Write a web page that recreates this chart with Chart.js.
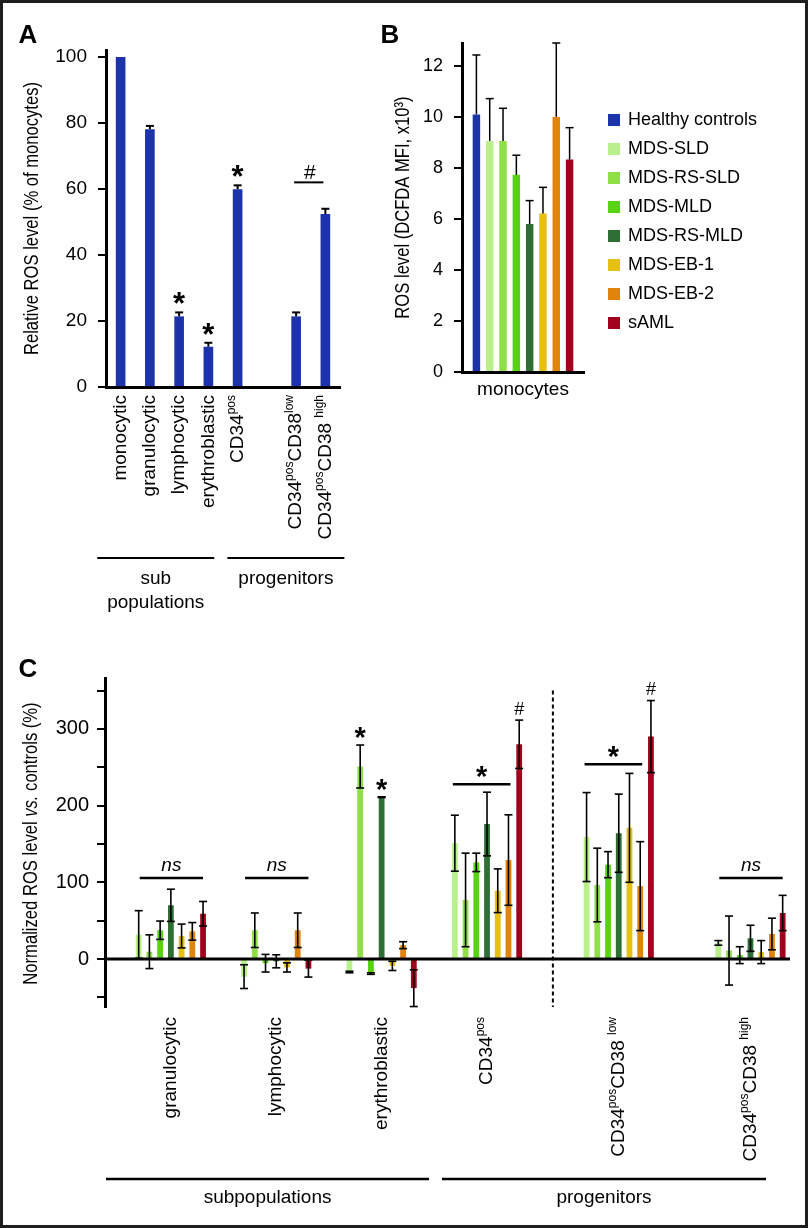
<!DOCTYPE html>
<html>
<head>
<meta charset="utf-8">
<title>ROS levels</title>
<script src="https://cdn.jsdelivr.net/npm/chart.js@4.4.1/dist/chart.umd.min.js"></script>
<style>
  html, body { margin: 0; padding: 0; background: #fff; overflow: hidden; }
  #fig { position: relative; width: 808px; height: 1228px; }
  #fig canvas { position: absolute; left: 0; top: 0; }
  #frame { position: absolute; left: 0; top: 0; width: 808px; height: 1228px; box-sizing: border-box; border: 3px solid #1e1e1e; pointer-events: none; }
</style>
</head>
<body>
<div id="fig">
  <canvas id="chartA" width="808" height="1228"></canvas>
  <canvas id="chartB" width="808" height="1228"></canvas>
  <canvas id="chartC" width="808" height="1228"></canvas>
  <div id="frame"></div>
</div>
<script>
const FONT = '"Liberation Sans", Arial, Helvetica, sans-serif';

// panel A - relative ROS level (% of monocytes)
// {..} = superscript, [..] = italic
const catsA = ['monocytic', 'granulocytic', 'lymphocytic', 'erythroblastic', 'CD34{pos}', '', 'CD34{pos}CD38{low}', 'CD34{pos}CD38 {high}'];
const valsA = [100, 78.1, 21.4, 12.2, 59.9, null, 21.4, 52.4];
const errA  = [0, 1.0, 1.2, 1.2, 1.2, null, 1.2, 1.6];
const starA = [2, 3, 4];

// panel B - monocytes, ROS level (DCFDA MFI x10^3)
const groups = ['Healthy controls', 'MDS-SLD', 'MDS-RS-SLD', 'MDS-MLD', 'MDS-RS-MLD', 'MDS-EB-1', 'MDS-EB-2', 'sAML'];
const colors = ['#1b34a9', '#b9f08c', '#8fe047', '#58d313', '#2f6f36', '#e6c010', '#e0840c', '#a2001d'];
const valsB  = [10.1, 9.06, 9.06, 7.73, 5.8, 6.21, 10.0, 8.33];
const errB   = [2.33, 1.66, 1.28, 0.77, 0.92, 1.03, 2.9, 1.25];

// panel C - normalized ROS level vs controls (%)
const catsC   = ['granulocytic', 'lymphocytic', 'erythroblastic', 'CD34{pos}', 'CD34{pos}CD38 {low}', 'CD34{pos}CD38 {high}'];
const cSLD    = [32, -23, -17, 151, 159, 21];
const cSLDe   = [31, 15.5, 1, 36.5, 58, 3];
const cRSSLD  = [9.5, 37.5, 251, 77, 96.5, 11];
const cRSSLDe = [22, 22.5, 28, 61, 48, 45];
const cMLD    = [37.5, -5.5, -19, 126, 123, 5];
const cMLDe   = [12, 11.5, 1, 12, 17, 11];
const cRSMLD  = [70, -3, 211, 176, 164, 27];
const cRSMLDe = [21, 8.5, 0.5, 41.5, 51, 17];
const cEB1    = [30, -11, -9, 89, 171, 9];
const cEB1e   = [15.5, 6, 6, 28.5, 71, 15];
const cEB2    = [36, 37.5, 18, 129, 95, 32.6];
const cEB2e   = [11.5, 22.5, 4.5, 59, 58, 20.6];
const cAML    = [59, -12.6, -38, 280, 290, 60];
const cAMLe   = [16, 11, 24, 31.5, 47, 23];

// layout of the category slots on panel C (groups are not evenly spaced)
const slotsC = [2, 6, 10, 14, 19, 24];
const nSlotsC = 26;

function spread(vals) {
  const out = new Array(nSlotsC).fill(null);
  vals.forEach((v, i) => { out[slotsC[i]] = v; });
  return out;
}

function pieces(str) {
  return str.split(/(\{[^}]*\}|\[[^\]]*\])/).filter(Boolean).map(s =>
    s[0] === '{' ? {t: s.slice(1, -1), sup: true} :
    s[0] === '[' ? {t: s.slice(1, -1), it: true} : {t: s});
}

function text(ctx, str, x, y, o = {}) {
  const size = o.size || 19;
  const ps = pieces(str);
  const font = p => (p.it || o.italic ? 'italic ' : '') + (o.bold ? 'bold ' : '') +
    (p.sup ? Math.round(size * 0.62) : size) + 'px ' + FONT;
  ctx.save();
  ctx.translate(x, y);
  if (o.rot) ctx.rotate(-Math.PI / 2);
  ctx.scale(o.sq || 1, 1);
  ctx.fillStyle = '#000';
  ctx.textAlign = 'left';
  ctx.textBaseline = 'middle';
  let w = 0;
  ps.forEach(p => { ctx.font = font(p); p.w = ctx.measureText(p.t).width; w += p.w; });
  let cx = o.align === 'right' ? -w : o.align === 'left' ? 0 : -w / 2;
  ps.forEach(p => { ctx.font = font(p); ctx.fillText(p.t, cx, p.sup ? -size * 0.32 : 0); cx += p.w; });
  ctx.restore();
}

// glyph centred on (x, cy); k = height of glyph centre above baseline in em
function glyph(ctx, s, x, cy, size, k, style) {
  ctx.save();
  ctx.fillStyle = '#000';
  ctx.font = (style || '') + ' ' + size + 'px ' + FONT;
  ctx.textAlign = 'center';
  ctx.textBaseline = 'alphabetic';
  ctx.fillText(s, x, cy + k * size);
  ctx.restore();
}

function seg(ctx, x1, y1, x2, y2, w) {
  ctx.save();
  ctx.strokeStyle = '#000';
  ctx.lineWidth = w;
  ctx.beginPath();
  ctx.moveTo(x1, y1);
  ctx.lineTo(x2, y2);
  ctx.stroke();
  ctx.restore();
}

function whisker(ctx, x, yA, yB, cap, w, capA) {
  seg(ctx, x, yA, x, yB, w);
  seg(ctx, x - cap / 2, yB, x + cap / 2, yB, w);
  if (capA) seg(ctx, x - cap / 2, yA, x + cap / 2, yA, w);
}

function yAxis(min, max, step, every, size, width, pad) {
  return {
    min, max,
    ticks: {stepSize: step, color: '#000', padding: pad, font: {family: FONT, size},
      callback: v => (v % every === 0 ? v : '')},
    // keep only the round multiples of the step (the library adds min/max)
    afterBuildTicks: s => {
      const ticks = [];
      for (let v = Math.ceil(min / step) * step; v <= max + 1e-9; v += step) ticks.push({value: v});
      s.ticks = ticks;
    },
    grid: {drawOnChartArea: false, color: '#000', lineWidth: 2, tickLength: 8},
    border: {color: '#000', width: 3},
    afterFit: s => { s.width = width; }
  };
}

function xHidden() {
  return {grid: {display: false}, ticks: {display: false}, border: {color: '#000', width: 3},
    afterFit: s => { s.height = 0; }};
}

const base = {responsive: false, animation: false, events: [],
  plugins: {legend: {display: false}, tooltip: {enabled: false}}};

// ---------- panel A
const panelA = {
  id: 'panelA',
  afterDatasetsDraw(chart) {
    const {ctx, scales: {y}} = chart;
    chart.getDatasetMeta(0).data.forEach((el, i) => {
      if (!errA[i]) return;
      whisker(ctx, el.x, y.getPixelForValue(valsA[i]), y.getPixelForValue(valsA[i] + errA[i]), 8, 2, false);
    });
  },
  afterDraw(chart) {
    const {ctx, chartArea: ca, scales: {x, y}} = chart;
    glyph(ctx, 'A', 28, 34, 26, 0.36, 'bold');
    text(ctx, 'Relative ROS level (% of monocytes)', ca.left - 74, (ca.top + ca.bottom) / 2, {rot: true, size: 20, sq: 0.83});
    catsA.forEach((c, i) => {
      if (c) text(ctx, c, x.getPixelForValue(i), ca.bottom + 8, {rot: true, align: 'right', size: 19});
    });
    starA.forEach(i => glyph(ctx, '*', x.getPixelForValue(i), y.getPixelForValue(valsA[i] + errA[i]) - 16, 31, 0.58, 'bold'));
    const lv = y.getPixelForValue(62);
    seg(ctx, x.getPixelForValue(6) - 2, lv, x.getPixelForValue(7) - 2, lv, 2);
    glyph(ctx, '#', (x.getPixelForValue(6) + x.getPixelForValue(7)) / 2 - 1, lv - 11, 21, 0.36);
    const yl = ca.bottom + 171;
    [[-0.8, 3.2, ['sub', 'populations']], [3.65, 7.65, ['progenitors']]].forEach(([a, b, lines]) => {
      const x1 = x.getPixelForValue(a), x2 = x.getPixelForValue(b);
      seg(ctx, x1, yl, x2, yl, 2);
      lines.forEach((t, k) => text(ctx, t, (x1 + x2) / 2, yl + 21 + k * 24, {size: 19}));
    });
  }
};

new Chart(document.getElementById('chartA'), {
  type: 'bar',
  data: {labels: catsA, datasets: [{data: valsA, backgroundColor: '#1c33ab', categoryPercentage: 1, barPercentage: 0.33}]},
  options: {...base,
    layout: {padding: {left: 21, top: 50, right: 468, bottom: 841}},
    scales: {x: xHidden(), y: yAxis(0, 102.1, 20, 20, 19, 85, 11)}},
  plugins: [panelA]
});

// ---------- panel B
const panelB = {
  id: 'panelB',
  afterDatasetsDraw(chart) {
    const {ctx, scales: {y}} = chart;
    chart.data.datasets.forEach((ds, di) => {
      const el = chart.getDatasetMeta(di).data[0];
      whisker(ctx, el.x, y.getPixelForValue(valsB[di]), y.getPixelForValue(valsB[di] + errB[di]), 8, 1.5, false);
    });
  },
  afterDraw(chart) {
    const {ctx, chartArea: ca} = chart;
    glyph(ctx, 'B', 390, 34, 26, 0.36, 'bold');
    text(ctx, 'ROS level (DCFDA MFI, x10³)', ca.left - 59, (ca.top + ca.bottom) / 2, {rot: true, size: 20, sq: 0.83});
    groups.forEach((g, i) => {
      const cy = ca.top + 77 + i * 29;
      ctx.fillStyle = colors[i];
      ctx.fillRect(ca.right + 24, cy - 6, 12, 12);
      text(ctx, g, ca.right + 44, cy, {align: 'left', size: 18});
    });
  }
};

new Chart(document.getElementById('chartB'), {
  type: 'bar',
  data: {labels: ['monocytes'], datasets: groups.map((g, i) => ({
    label: g, data: [valsB[i]], backgroundColor: colors[i], categoryPercentage: 0.873, barPercentage: 0.56}))},
  options: {...base,
    layout: {padding: {left: 392, top: 43, right: 224, bottom: 816}},
    scales: {
      x: {grid: {display: false, drawTicks: false}, border: {color: '#000', width: 3},
        ticks: {color: '#000', padding: 6, font: {family: FONT, size: 19}},
        afterFit: s => { s.height = 40; }},
      y: yAxis(0, 12.9, 2, 2, 18, 70, 11)
    }},
  plugins: [panelB]
});

// ---------- panel C
const seriesC = [[cSLD, cSLDe], [cRSSLD, cRSSLDe], [cMLD, cMLDe], [cRSMLD, cRSMLDe], [cEB1, cEB1e], [cEB2, cEB2e], [cAML, cAMLe]];
const nsC = [0, 1, 5];                 // groups with an ns bracket over all series
const starBracketC = [[3, 228], [4, 254]]; // group, level of * bracket (MDS series)
const hashC = [3, 4];                  // groups with # over sAML
const starBarC = [[2, 1], [2, 3]];     // group, series with * over the error bar

const panelC = {
  id: 'panelC',
  afterDatasetsDraw(chart) {
    const {ctx, chartArea: ca, scales: {x, y}} = chart;
    const y0 = y.getPixelForValue(0);
    seg(ctx, ca.left, y0, ca.right, y0, 3);
    chart.data.datasets.forEach((ds, di) => {
      chart.getDatasetMeta(di).data.forEach((el, i) => {
        const v = ds.data[i];
        if (v == null) return;
        whisker(ctx, el.x, y.getPixelForValue(v - ds.err[i]), y.getPixelForValue(v + ds.err[i]), 8, 1.6, true);
      });
    });
    const xd = (x.getPixelForValue(slotsC[3]) + x.getPixelForValue(slotsC[4])) / 2;
    ctx.save();
    ctx.setLineDash([4, 3]);
    seg(ctx, xd, y.getPixelForValue(350), xd, ca.bottom, 2);
    ctx.restore();
  },
  afterDraw(chart) {
    const {ctx, chartArea: ca, scales: {x, y}} = chart;
    const bx = (s, g) => chart.getDatasetMeta(s).data[slotsC[g]].x;
    glyph(ctx, 'C', 28, 668, 26, 0.36, 'bold');
    text(ctx, 'Normalized ROS level [vs.] controls (%)', ca.left - 74, (ca.top + ca.bottom) / 2 + 1, {rot: true, size: 20, sq: 0.83});
    catsC.forEach((c, g) => text(ctx, c, x.getPixelForValue(slotsC[g]), ca.bottom + 10, {rot: true, align: 'right', size: 19}));

    nsC.forEach(g => {
      const lv = y.getPixelForValue(105.6), x1 = bx(0, g) + 1, x2 = bx(6, g);
      seg(ctx, x1, lv, x2, lv, 2.5);
      text(ctx, 'ns', (x1 + x2) / 2, lv - 12, {size: 19, italic: true});
    });
    starBracketC.forEach(([g, level]) => {
      const lv = y.getPixelForValue(level), x1 = bx(0, g) - 2, x2 = bx(5, g) + 2;
      seg(ctx, x1, lv, x2, lv, 2.5);
      glyph(ctx, '*', (x1 + x2) / 2, lv - 15, 29, 0.58, 'bold');
    });
    hashC.forEach(g => {
      glyph(ctx, '#', bx(6, g), y.getPixelForValue(cAML[g] + cAMLe[g]) - 12, 18, 0.36);
    });
    starBarC.forEach(([g, s]) => {
      const [v, e] = seriesC[s];
      glyph(ctx, '*', bx(s, g), y.getPixelForValue(v[g] + e[g]) - 15, 29, 0.58, 'bold');
    });

    const yl = ca.bottom + 172;
    [[-0.46, 11.8, 'subpopulations'], [12.29, 24.59, 'progenitors']].forEach(([a, b, t]) => {
      const x1 = x.getPixelForValue(a), x2 = x.getPixelForValue(b);
      seg(ctx, x1, yl, x2, yl, 2.5);
      text(ctx, t, (x1 + x2) / 2, yl + 19, {size: 19});
    });
  }
};

new Chart(document.getElementById('chartC'), {
  type: 'bar',
  data: {
    labels: new Array(nSlotsC).fill(''),
    datasets: seriesC.map(([v, e], i) => ({
      label: groups[i + 1], data: spread(v), err: spread(e), backgroundColor: colors[i + 1],
      categoryPercentage: 2.85, barPercentage: 0.54}))
  },
  options: {...base,
    layout: {padding: {left: 20, top: 678, right: 18, bottom: 221}},
    scales: {x: {...xHidden(), border: {display: false}}, y: yAxis(-62.6, 366.4, 50, 100, 20, 85, 8)}},
  plugins: [panelC]
});
</script>
</body>
</html>
